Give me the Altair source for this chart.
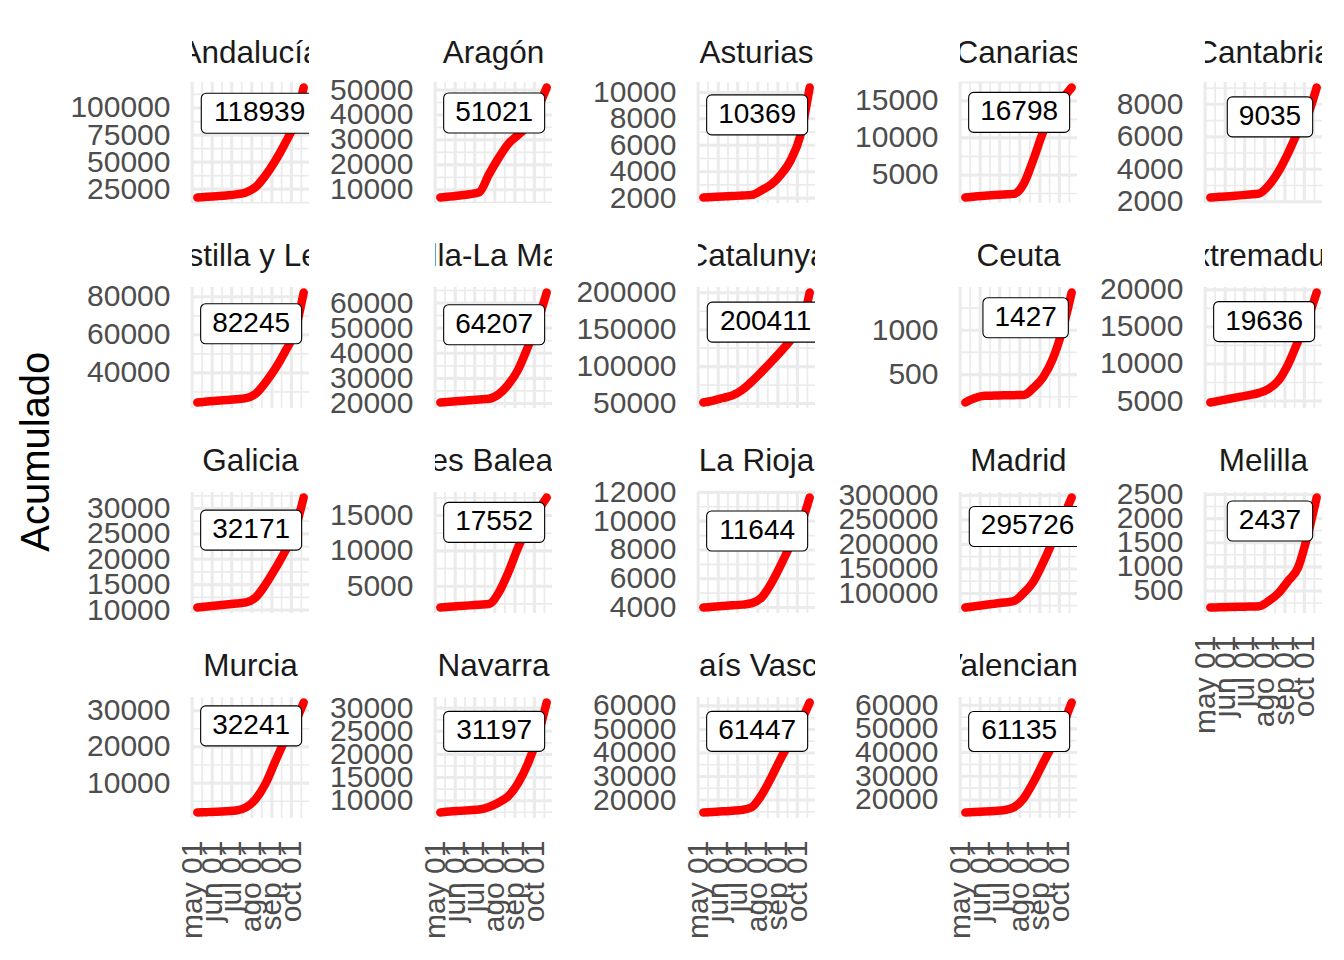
import altair as alt
import pandas as pd

FONT = "Liberation Sans"

regions = ["Andalucía", "Aragón", "Asturias", "Canarias", "Cantabria",
           "Castilla y León", "Castilla-La Mancha", "Catalunya", "Ceuta", "Extremadura",
           "Galicia", "Illes Balears", "La Rioja", "Madrid", "Melilla",
           "Murcia", "Navarra", "País Vasco", "Valenciana"]

dates = ["2020-05-09", "2020-05-24", "2020-06-08", "2020-06-23", "2020-07-08", "2020-07-23",
         "2020-08-07", "2020-08-22", "2020-09-06", "2020-09-21", "2020-10-06", "2020-10-20"]

andalucia = [17300, 17900, 18500, 19200, 20200, 22000, 27000, 37500, 51000, 67000, 86000, 118939]
aragon = [6900, 7300, 7700, 8200, 9000, 16200, 22800, 28500, 32000, 35800, 42600, 51021]
asturias = [2050, 2090, 2120, 2160, 2200, 2250, 2600, 3050, 3800, 4900, 6800, 10369]
canarias = [1960, 2100, 2200, 2300, 2380, 2450, 3800, 7100, 10800, 13600, 15300, 16798]
cantabria = [2260, 2300, 2340, 2390, 2440, 2500, 3000, 3850, 5000, 6300, 7300, 9035]
castilla_leon = [24400, 24900, 25300, 25700, 26100, 26700, 29000, 34900, 42100, 51000, 61400, 82245]
castilla_mancha = [20400, 20700, 21000, 21300, 21600, 21900, 23700, 27600, 33500, 42500, 52500, 64207]
catalunya = [51400, 54000, 57500, 61000, 68500, 80000, 93000, 106700, 121000, 136000, 152000, 200411]
ceuta = [185, 235, 260, 263, 266, 268, 270, 350, 470, 680, 1010, 1427]
extremadura = [4800, 5050, 5300, 5550, 5800, 6100, 6650, 7750, 9950, 13000, 16000, 19636]
galicia = [10500, 10700, 10900, 11100, 11300, 11500, 12500, 15000, 18100, 21500, 25600, 32171]
baleares = [2000, 2100, 2200, 2300, 2400, 2500, 4100, 7000, 10500, 13400, 15600, 17552]
la_rioja = [4000, 4050, 4100, 4150, 4200, 4300, 4700, 5700, 7000, 8400, 9700, 11644]
madrid = [71300, 74000, 76500, 79000, 81500, 84500, 101000, 124000, 163000, 207000, 252000, 295726]
melilla = [157, 162, 167, 172, 176, 182, 290, 455, 708, 975, 1650, 2437]
murcia = [1900, 2000, 2100, 2250, 2450, 3300, 5600, 9800, 15900, 21800, 26500, 32241]
navarra = [7450, 7650, 7800, 7950, 8100, 8650, 9600, 11000, 13800, 18000, 23800, 31197]
pais_vasco = [14700, 14950, 15200, 15450, 15800, 17000, 22200, 29700, 38000, 45500, 53000, 61447]
valenciana = [14700, 14900, 15100, 15350, 15700, 16900, 20700, 27500, 35600, 43500, 51500, 61135]

series = [andalucia, aragon, asturias, canarias, cantabria,
          castilla_leon, castilla_mancha, catalunya, ceuta, extremadura,
          galicia, baleares, la_rioja, madrid, melilla,
          murcia, navarra, pais_vasco, valenciana]

# y-axis tick labels
y_ticks = [
    [25000, 50000, 75000, 100000],
    [10000, 20000, 30000, 40000, 50000],
    [2000, 4000, 6000, 8000, 10000],
    [5000, 10000, 15000],
    [2000, 4000, 6000, 8000],
    [40000, 60000, 80000],
    [20000, 30000, 40000, 50000, 60000],
    [50000, 100000, 150000, 200000],
    [500, 1000],
    [5000, 10000, 15000, 20000],
    [10000, 15000, 20000, 25000, 30000],
    [5000, 10000, 15000],
    [4000, 6000, 8000, 10000, 12000],
    [100000, 150000, 200000, 250000, 300000],
    [500, 1000, 1500, 2000, 2500],
    [10000, 20000, 30000],
    [10000, 15000, 20000, 25000, 30000],
    [20000, 30000, 40000, 50000, 60000],
    [20000, 30000, 40000, 50000, 60000],
]

# date at which each panel's total label sits
label_dates = [
    "2020-08-13", "2020-07-31", "2020-07-31", "2020-07-31", "2020-08-09",
    "2020-07-31", "2020-07-31", "2020-08-13", "2020-08-10", "2020-07-31",
    "2020-07-31", "2020-07-31", "2020-07-31", "2020-08-13", "2020-08-09",
    "2020-07-31", "2020-07-31", "2020-07-31", "2020-07-31",
]

month_ticks = ["2020-05-01", "2020-06-01", "2020-07-01", "2020-08-01", "2020-09-01", "2020-10-01"]
bottom_panels = {"Murcia", "Navarra", "País Vasco", "Valenciana", "Melilla"}


def ms(s):
    return int(pd.Timestamp(s, tz="UTC").value // 10**6)


d0, d1 = ms(dates[0]), ms(dates[-1])
xpad = 0.05 * (d1 - d0)
x_domain = [d0 - xpad, d1 + xpad]
x_major = [ms(m) for m in month_ticks]
x_ext = [ms("2020-04-01")] + x_major + [ms("2020-11-01")]
x_minor = [(a + b) / 2 for a, b in zip(x_ext[:-1], x_ext[1:])]
x_minor = [v for v in x_minor if x_domain[0] <= v <= x_domain[1]]

W, H = 117, 121
GRID = "#EBEBEB"
MONTHS = "['ene','feb','mar','abr','may','jun','jul','ago','sep','oct','nov','dic']"


def blank(w, h):
    return alt.Chart(pd.DataFrame({"n": [""]})).mark_text(opacity=0).encode(
        text="n:N").properties(width=w, height=h)


def strip(name, h, dy):
    return alt.Chart(pd.DataFrame({"n": [name]})).mark_text(
        font=FONT, fontSize=31.5, color="#1A1A1A", clip=True, dy=dy,
        baseline="middle", align="center"
    ).encode(text="n:N").properties(width=W, height=h)


def panel(name, vals, ticks, lab_date):
    lo, hi = min(vals), max(vals)
    r = hi - lo
    ydom = [lo - 0.05 * r, hi + 0.05 * r]
    step = ticks[1] - ticks[0]
    ext = [ticks[0] - step] + ticks + [ticks[-1] + step]
    y_minor = [(a + b) / 2 for a, b in zip(ext[:-1], ext[1:])]
    y_minor = [v for v in y_minor if ydom[0] <= v <= ydom[1]]
    y_major = [t for t in ticks if ydom[0] <= t <= ydom[1]]

    ysc = alt.Scale(domain=ydom, nice=False, zero=False)
    xsc = alt.Scale(type="utc", domain=x_domain, nice=False)
    yax = alt.Axis(values=y_major, format="d", labelFont=FONT, labelFontSize=30,
                   labelColor="#4D4D4D", labelPadding=22, ticks=False, tickSize=0,
                   domain=False, grid=False, title=None, labelOverlap=False)
    if name in bottom_panels:
        xax = alt.Axis(values=x_major, labelExpr=MONTHS + "[utcmonth(datum.value)] + ' ' + utcFormat(datum.value, '%d')",
                       labelFont=FONT, labelFontSize=30, labelColor="#4D4D4D",
                       labelAngle=270, labelAlign="right", labelBaseline="middle",
                       labelPadding=22, ticks=False, tickSize=0, domain=False, grid=False,
                       title=None, labelOverlap=False, labelFlush=False)
    else:
        xax = None

    X = lambda f: alt.X(f, scale=xsc, axis=xax)
    Y = lambda f: alt.Y(f, scale=ysc, axis=yax)

    vmin = alt.Chart(pd.DataFrame({"t": x_minor})).mark_rule(
        color=GRID, strokeWidth=1.7).encode(x=X("t:T"))
    vmaj = alt.Chart(pd.DataFrame({"t": x_major})).mark_rule(
        color=GRID, strokeWidth=3.1).encode(x=X("t:T"))
    hmin = alt.Chart(pd.DataFrame({"v": y_minor})).mark_rule(
        color=GRID, strokeWidth=1.7).encode(y=Y("v:Q"))
    hmaj = alt.Chart(pd.DataFrame({"v": y_major})).mark_rule(
        color=GRID, strokeWidth=3.1).encode(y=Y("v:Q"))

    df = pd.DataFrame({"fecha": dates, "acumulado": vals})
    line = alt.Chart(df).mark_line(
        color="#FF0000", strokeWidth=8.5, strokeCap="round", strokeJoin="round",
        interpolate="monotone", clip=True
    ).encode(x=X("fecha:T"), y=Y("acumulado:Q"))

    total = vals[-1]
    lab = pd.DataFrame({"fecha": [lab_date], "y": [0.8 * total], "txt": [str(total)]})
    bw = 15.6 * len(str(total)) + 23
    box = alt.Chart(lab).mark_rect(
        width=bw, height=40, cornerRadius=5, fill="white", stroke="black",
        strokeWidth=1.1, clip=True
    ).encode(x=X("fecha:T"), y=Y("y:Q"))
    txt = alt.Chart(lab).mark_text(
        font=FONT, fontSize=28, color="black", clip=True, baseline="middle", align="center"
    ).encode(x=X("fecha:T"), y=Y("y:Q"), text="txt:N")

    return alt.layer(vmin, vmaj, hmin, hmaj, line, box, txt).properties(width=W, height=H)


gaps = [126, 146, 145, 128]
strip_h = [69, 83.5, 83.5, 83.5]
strip_dy = [6, 12.5, 12.5, 12.5]

cells = []
for r in range(4):
    idx = list(range(r * 5, min(r * 5 + 5, len(regions))))
    for c in range(5):
        if c < len(idx):
            cells.append(strip(regions[idx[c]], strip_h[r], strip_dy[r]))
        else:
            cells.append(blank(W, strip_h[r]))
        if c < 4:
            cells.append(blank(gaps[c], strip_h[r]))
    for c in range(5):
        if c < len(idx):
            i = idx[c]
            cells.append(panel(regions[i], series[i], y_ticks[i], label_dates[i]))
        else:
            cells.append(blank(W, H))
        if c < 4:
            cells.append(blank(gaps[c], H))

chart = alt.concat(
    *cells, columns=9, spacing=0, bounds="flush", align="each"
).properties(
    title=alt.TitleParams("Acumulado", orient="left", anchor="middle", font=FONT,
                          fontSize=40, fontWeight="normal", color="black", offset=13, dx=24),
    padding={"left": 8, "top": 5, "right": 5, "bottom": 5},
).configure_view(stroke=None)

chart.save("out.html", embed_options={"renderer": "svg", "actions": False})
